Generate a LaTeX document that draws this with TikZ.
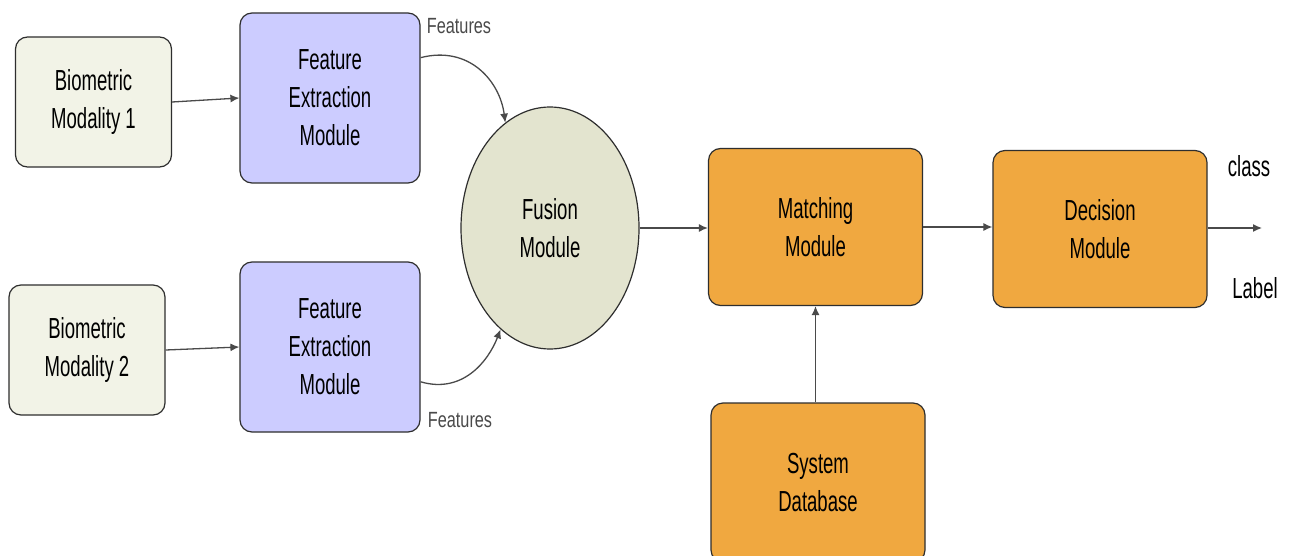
\documentclass[tikz,border=0pt]{standalone}
\usepackage{fontspec}
\setmainfont{Liberation Sans}[FakeStretch=0.64]
\newfontfamily\featfont{Liberation Sans}[FakeStretch=0.74]
\usetikzlibrary{arrows.meta,shapes.geometric}
\definecolor{creamfill}{HTML}{F2F3E7}
\definecolor{lavfill}{HTML}{CCCCFF}
\definecolor{fusefill}{HTML}{E3E4CF}
\definecolor{orangefill}{HTML}{F0A840}
\definecolor{edgegray}{HTML}{2E2E2E}
\definecolor{arrowgray}{HTML}{4A4A4A}
\tikzset{
  box/.style={draw=edgegray, line width=1.2pt, rounded corners=12pt,
    align=center, font=\fontsize{29}{38}\selectfont, inner sep=0pt},
  inbox/.style={box, fill=creamfill, minimum width=156pt, minimum height=130pt},
  febox/.style={box, fill=lavfill, minimum width=180pt, minimum height=170pt},
  orbox/.style={box, fill=orangefill, minimum width=214pt, minimum height=157pt},
  flow/.style={draw=arrowgray, line width=1.3pt, -{Latex[length=9pt,width=8pt]}},
  tag/.style={font=\featfont\fontsize{22}{24}\selectfont, text=arrowgray, inner sep=0pt},
  outtag/.style={font=\fontsize{29}{30}\selectfont, inner sep=0pt}
}
\begin{document}
\begin{tikzpicture}[x=1pt, y=-1pt]
  \path[use as bounding box, fill=white] (0,0) rectangle (1292,556);

  % inputs and feature extractors
  \node[inbox] (bio1) at (93.5,102) {Biometric\\Modality 1};
  \node[inbox] (bio2) at (87,350) {Biometric\\Modality 2};
  \node[febox] (fe1) at (330,98) {Feature\\Extraction\\Module};
  \node[febox] (fe2) at (330,347) {Feature\\Extraction\\Module};

  % fusion stage
  \node[ellipse, draw=edgegray, line width=1.2pt, fill=fusefill,
        minimum width=178pt, minimum height=242pt, inner sep=0pt,
        align=center, font=\fontsize{29}{38}\selectfont] (fusion) at (550,228) {Fusion\\Module};

  % matching, decision and database
  \node[orbox] (match) at (815.5,227) {Matching\\Module};
  \node[orbox] (decide) at (1100,229) {Decision\\Module};
  \node[orbox, minimum height=159pt] (db) at (818,482.5) {System\\Database};

  % labels
  \node[tag] (feat1) at (459,26) {Features};
  \node[tag] (feat2) at (460,420) {Features};
  \node[outtag] (cls) at (1249,166) {class};
  \node[outtag] (lbl) at (1255,288) {Label};
  \coordinate (out) at (1262,228);

  % connectors
  \draw[flow] (bio1.east) -- (fe1.west);
  \draw[flow] (bio2.east) -- (fe2.west);
  \draw[flow] (fe1.24.5) .. controls (470,45) and (500,82) .. (fusion.113);
  \draw[flow] (fe2.-21.8) .. controls (462,394) and (488,362) .. (fusion.-116);
  \draw[flow] (fusion.east) -- (match.west |- fusion.east);
  \draw[flow] (match.east) -- (decide.west |- match.east);
  \draw[flow] (decide.east |- out) -- (out);
  \draw[flow] (db.north -| match.south) -- (match.south);
\end{tikzpicture}
\end{document}
